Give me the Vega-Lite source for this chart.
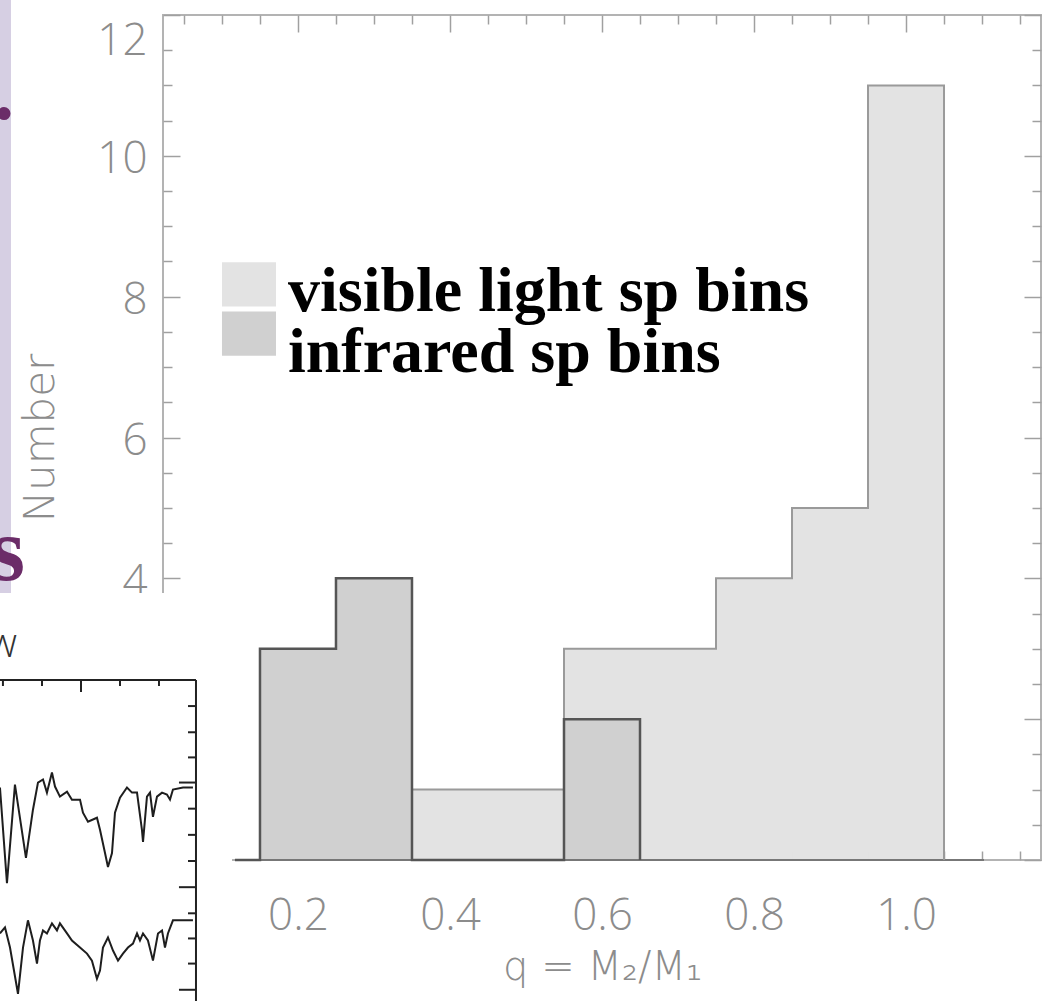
{
  "$schema": "https://vega.github.io/schema/vega-lite/v6.json",
  "width": 878,
  "height": 845,
  "autosize": {"type": "none"},
  "padding": {"left": 163, "top": 15, "right": 1, "bottom": 141},
  "background": "white",
  "config": {"view": {"stroke": "#b3b3b3", "strokeWidth": 2}},
  "datasets": {
    "bins": [
      {"series": "visible light sp bins", "q0": 0.35, "q1": 0.55, "n": 1},
      {"series": "visible light sp bins", "q0": 0.55, "q1": 0.75, "n": 3},
      {"series": "visible light sp bins", "q0": 0.75, "q1": 0.85, "n": 4},
      {"series": "visible light sp bins", "q0": 0.85, "q1": 0.95, "n": 5},
      {"series": "visible light sp bins", "q0": 0.95, "q1": 1.05, "n": 11},
      {"series": "infrared sp bins", "q0": 0.15, "q1": 0.25, "n": 3},
      {"series": "infrared sp bins", "q0": 0.25, "q1": 0.35, "n": 4},
      {"series": "infrared sp bins", "q0": 0.55, "q1": 0.65, "n": 2}
    ],
    "outline": [
      {"series": "infrared", "i": 0, "q": 0.1171, "n": 0},
      {"series": "infrared", "i": 1, "q": 0.15, "n": 3},
      {"series": "infrared", "i": 2, "q": 0.25, "n": 4},
      {"series": "infrared", "i": 3, "q": 0.35, "n": 0},
      {"series": "infrared", "i": 4, "q": 0.55, "n": 2},
      {"series": "infrared", "i": 5, "q": 0.65, "n": 0},
      {"series": "visible", "i": 0, "q": 0.35, "n": 1},
      {"series": "visible", "i": 1, "q": 0.55, "n": 3},
      {"series": "visible", "i": 2, "q": 0.75, "n": 4},
      {"series": "visible", "i": 3, "q": 0.85, "n": 5},
      {"series": "visible", "i": 4, "q": 0.95, "n": 11},
      {"series": "visible", "i": 5, "q": 1.05, "n": 0}
    ],
    "insetRules": [
      {"x": -0.25, "x2": 0.0658, "y": 2.557, "y2": 2.557},
      {"x": 0.0658, "x2": 0.0658, "y": 2.557, "y2": -2.5},
      {"x": -0.1882, "x2": -0.1882, "y": 2.557, "y2": 2.471},
      {"x": -0.1368, "x2": -0.1368, "y": 2.557, "y2": 2.471},
      {"x": -0.0855, "x2": -0.0855, "y": 2.557, "y2": 2.386},
      {"x": -0.0342, "x2": -0.0342, "y": 2.557, "y2": 2.471},
      {"x": 0.0171, "x2": 0.0171, "y": 2.557, "y2": 2.471},
      {"x": 0.0658, "x2": 0.0553, "y": 2.186, "y2": 2.186},
      {"x": 0.0658, "x2": 0.0553, "y": 1.814, "y2": 1.814},
      {"x": 0.0658, "x2": 0.0553, "y": 1.457, "y2": 1.457},
      {"x": 0.0658, "x2": 0.0434, "y": 1.1, "y2": 1.1},
      {"x": 0.0658, "x2": 0.0553, "y": 0.729, "y2": 0.729},
      {"x": 0.0658, "x2": 0.0553, "y": 0.357, "y2": 0.357},
      {"x": 0.0658, "x2": 0.0553, "y": -0.014, "y2": -0.014},
      {"x": 0.0658, "x2": 0.0434, "y": -0.386, "y2": -0.386},
      {"x": 0.0658, "x2": 0.0553, "y": -0.757, "y2": -0.757},
      {"x": 0.0658, "x2": 0.0553, "y": -1.114, "y2": -1.114},
      {"x": 0.0658, "x2": 0.0553, "y": -1.471, "y2": -1.471},
      {"x": 0.0658, "x2": 0.0434, "y": -1.843, "y2": -1.843}
    ],
    "spectrum": [
      {"trace": "upper", "i": 0, "x": -0.1921, "y": 1.029},
      {"trace": "upper", "i": 1, "x": -0.1829, "y": -0.329},
      {"trace": "upper", "i": 2, "x": -0.1724, "y": 1.071},
      {"trace": "upper", "i": 3, "x": -0.1579, "y": 0.029},
      {"trace": "upper", "i": 4, "x": -0.1487, "y": 0.714},
      {"trace": "upper", "i": 5, "x": -0.1421, "y": 1.1},
      {"trace": "upper", "i": 6, "x": -0.1355, "y": 1.143},
      {"trace": "upper", "i": 7, "x": -0.1303, "y": 0.957},
      {"trace": "upper", "i": 8, "x": -0.1237, "y": 1.243},
      {"trace": "upper", "i": 9, "x": -0.1197, "y": 1.043},
      {"trace": "upper", "i": 10, "x": -0.1132, "y": 0.9},
      {"trace": "upper", "i": 11, "x": -0.1039, "y": 0.971},
      {"trace": "upper", "i": 12, "x": -0.0974, "y": 0.857},
      {"trace": "upper", "i": 13, "x": -0.0868, "y": 0.857},
      {"trace": "upper", "i": 14, "x": -0.0829, "y": 0.671},
      {"trace": "upper", "i": 15, "x": -0.0763, "y": 0.543},
      {"trace": "upper", "i": 16, "x": -0.0645, "y": 0.6},
      {"trace": "upper", "i": 17, "x": -0.0605, "y": 0.429},
      {"trace": "upper", "i": 18, "x": -0.0539, "y": 0.1},
      {"trace": "upper", "i": 19, "x": -0.05, "y": -0.1},
      {"trace": "upper", "i": 20, "x": -0.0447, "y": 0.1},
      {"trace": "upper", "i": 21, "x": -0.0408, "y": 0.671},
      {"trace": "upper", "i": 22, "x": -0.0342, "y": 0.886},
      {"trace": "upper", "i": 23, "x": -0.025, "y": 1.029},
      {"trace": "upper", "i": 24, "x": -0.0184, "y": 0.957},
      {"trace": "upper", "i": 25, "x": -0.0118, "y": 0.957},
      {"trace": "upper", "i": 26, "x": -0.0053, "y": 0.429},
      {"trace": "upper", "i": 27, "x": -0.0039, "y": 0.257},
      {"trace": "upper", "i": 28, "x": 0.0013, "y": 0.9},
      {"trace": "upper", "i": 29, "x": 0.0053, "y": 0.957},
      {"trace": "upper", "i": 30, "x": 0.0092, "y": 0.614},
      {"trace": "upper", "i": 31, "x": 0.0145, "y": 0.9},
      {"trace": "upper", "i": 32, "x": 0.0211, "y": 0.957},
      {"trace": "upper", "i": 33, "x": 0.0276, "y": 0.929},
      {"trace": "upper", "i": 34, "x": 0.0316, "y": 0.857},
      {"trace": "upper", "i": 35, "x": 0.0355, "y": 1.0},
      {"trace": "upper", "i": 36, "x": 0.0487, "y": 1.029},
      {"trace": "upper", "i": 37, "x": 0.0618, "y": 1.029},
      {"trace": "lower", "i": 0, "x": -0.1921, "y": -1.043},
      {"trace": "lower", "i": 1, "x": -0.1855, "y": -0.957},
      {"trace": "lower", "i": 2, "x": -0.1789, "y": -1.243},
      {"trace": "lower", "i": 3, "x": -0.1684, "y": -1.9},
      {"trace": "lower", "i": 4, "x": -0.1618, "y": -1.243},
      {"trace": "lower", "i": 5, "x": -0.1553, "y": -0.857},
      {"trace": "lower", "i": 6, "x": -0.1487, "y": -1.143},
      {"trace": "lower", "i": 7, "x": -0.1434, "y": -1.471},
      {"trace": "lower", "i": 8, "x": -0.1395, "y": -1.143},
      {"trace": "lower", "i": 9, "x": -0.1355, "y": -1.0},
      {"trace": "lower", "i": 10, "x": -0.1303, "y": -1.043},
      {"trace": "lower", "i": 11, "x": -0.1237, "y": -0.9},
      {"trace": "lower", "i": 12, "x": -0.1171, "y": -1.0},
      {"trace": "lower", "i": 13, "x": -0.1132, "y": -0.9},
      {"trace": "lower", "i": 14, "x": -0.1039, "y": -1.043},
      {"trace": "lower", "i": 15, "x": -0.0974, "y": -1.143},
      {"trace": "lower", "i": 16, "x": -0.0868, "y": -1.243},
      {"trace": "lower", "i": 17, "x": -0.0776, "y": -1.329},
      {"trace": "lower", "i": 18, "x": -0.0711, "y": -1.429},
      {"trace": "lower", "i": 19, "x": -0.0645, "y": -1.686},
      {"trace": "lower", "i": 20, "x": -0.0605, "y": -1.571},
      {"trace": "lower", "i": 21, "x": -0.0566, "y": -1.243},
      {"trace": "lower", "i": 22, "x": -0.05, "y": -1.1},
      {"trace": "lower", "i": 23, "x": -0.0434, "y": -1.286},
      {"trace": "lower", "i": 24, "x": -0.0368, "y": -1.429},
      {"trace": "lower", "i": 25, "x": -0.0303, "y": -1.329},
      {"trace": "lower", "i": 26, "x": -0.0237, "y": -1.243},
      {"trace": "lower", "i": 27, "x": -0.0171, "y": -1.186},
      {"trace": "lower", "i": 28, "x": -0.0118, "y": -1.043},
      {"trace": "lower", "i": 29, "x": -0.0079, "y": -1.143},
      {"trace": "lower", "i": 30, "x": -0.0039, "y": -1.043},
      {"trace": "lower", "i": 31, "x": 0.0026, "y": -1.143},
      {"trace": "lower", "i": 32, "x": 0.0092, "y": -1.429},
      {"trace": "lower", "i": 33, "x": 0.0158, "y": -1.043},
      {"trace": "lower", "i": 34, "x": 0.0211, "y": -1.0},
      {"trace": "lower", "i": 35, "x": 0.025, "y": -1.243},
      {"trace": "lower", "i": 36, "x": 0.0289, "y": -1.043},
      {"trace": "lower", "i": 37, "x": 0.0355, "y": -0.857},
      {"trace": "lower", "i": 38, "x": 0.0474, "y": -0.857},
      {"trace": "lower", "i": 39, "x": 0.0618, "y": -0.857}
    ]
  },
  "layer": [
    {
      "data": {"values": [{}]},
      "mark": {"type": "rect", "fill": "#d6cfe3"},
      "encoding": {
        "x": {"datum": -0.25, "type": "quantitative", "scale": {"domain": [0.0224, 1.1776], "nice": false, "zero": false}, "axis": null},
        "x2": {"datum": -0.1776},
        "y": {"datum": 12.5, "type": "quantitative", "scale": {"domain": [0, 12], "nice": false, "zero": false}, "axis": null},
        "y2": {"datum": 3.79}
      }
    },
    {
      "data": {"name": "bins"},
      "mark": {"type": "rect", "strokeWidth": 0},
      "encoding": {
        "x": {"field": "q0", "type": "quantitative", "scale": {"domain": [0.0224, 1.1776], "nice": false, "zero": false},
          "axis": {"orient": "bottom", "values": [0.2, 0.4, 0.6, 0.8, 1.0], "format": ".1f", "ticks": false, "domain": false, "grid": false, "labelFont": "Open Sans", "labelFontWeight": 300, "labelFontSize": 44, "labelColor": "#8c8c8c", "labelPadding": 34, "title": "q  =  M₂/M₁", "titleFont": "DejaVu Sans ExtraLight, DejaVu Sans", "titleFontWeight": 200, "titleFontSize": 40, "titleColor": "#8c8c8c", "titlePadding": 9, "zindex": 0}},
        "x2": {"field": "q1"},
        "y": {"field": "n", "type": "quantitative", "scale": {"domain": [0, 12], "nice": false, "zero": false},
          "axis": {"orient": "left", "values": [0, 2, 4, 6, 8, 10, 12], "ticks": false, "domain": false, "grid": false, "labelFlush": true, "labelOffset": 4, "labelFont": "Open Sans", "labelFontWeight": 300, "labelFontSize": 44, "labelColor": "#8c8c8c", "labelPadding": 16, "title": "Number", "titleFont": "DejaVu Sans ExtraLight, DejaVu Sans", "titleFontWeight": 200, "titleFontSize": 42, "titleColor": "#8c8c8c", "titlePadding": 34, "zindex": 0}},
        "y2": {"datum": 0},
        "color": {"field": "series", "type": "nominal",
          "scale": {"domain": ["visible light sp bins", "infrared sp bins"], "range": ["#e3e3e3", "#d0d0d0"]},
          "legend": null}
      }
    },
    {
      "data": {"values": [{}]},
      "mark": {"type": "rule", "color": "#777777", "strokeWidth": 2},
      "encoding": {
        "x": {"datum": 0.1171, "type": "quantitative", "scale": {"domain": [0.0224, 1.1776], "nice": false, "zero": false},
          "axis": {"orient": "top", "values": [0.2, 0.4, 0.6, 0.8, 1.0], "labels": false, "domain": false, "grid": false, "ticks": true, "tickSize": -17, "tickColor": "#a0a0a0", "tickWidth": 1.5, "title": null, "zindex": 0}},
        "x2": {"datum": 1.1026},
        "y": {"datum": 0, "type": "quantitative", "scale": {"domain": [0, 12], "nice": false, "zero": false},
          "axis": {"orient": "right", "values": [0, 2, 4, 6, 8, 10, 12], "labels": false, "domain": false, "grid": false, "ticks": true, "tickSize": -17, "tickColor": "#a0a0a0", "tickWidth": 1.5, "title": null, "zindex": 0}}
      }
    },
    {
      "data": {"name": "outline"},
      "transform": [{"filter": "datum.series == 'visible'"}],
      "mark": {"type": "line", "interpolate": "step-after", "color": "#9a9a9a", "strokeWidth": 2},
      "encoding": {
        "x": {"field": "q", "type": "quantitative", "scale": {"domain": [0.0224, 1.1776], "nice": false, "zero": false},
          "axis": {"orient": "bottom", "values": [0.05, 0.1, 0.15, 0.25, 0.3, 0.35, 0.45, 0.5, 0.55, 0.65, 0.7, 0.75, 0.85, 0.9, 0.95, 1.05, 1.1, 1.15], "labels": false, "domain": false, "grid": false, "ticks": true, "tickSize": -9, "tickColor": "#a0a0a0", "tickWidth": 1.5, "title": null, "zindex": 0}},
        "y": {"field": "n", "type": "quantitative", "scale": {"domain": [0, 12], "nice": false, "zero": false},
          "axis": {"orient": "left", "values": [0.5, 1, 1.5, 2.5, 3, 3.5, 4.5, 5, 5.5, 6.5, 7, 7.5, 8.5, 9, 9.5, 10.5, 11, 11.5], "labels": false, "domain": false, "grid": false, "ticks": true, "tickSize": -9, "tickColor": "#a0a0a0", "tickWidth": 1.5, "title": null, "zindex": 0}},
        "order": {"field": "i", "type": "quantitative"}
      }
    },
    {
      "data": {"name": "outline"},
      "transform": [{"filter": "datum.series == 'infrared'"}],
      "mark": {"type": "line", "interpolate": "step-after", "color": "#555555", "strokeWidth": 2.5},
      "encoding": {
        "x": {"field": "q", "type": "quantitative", "scale": {"domain": [0.0224, 1.1776], "nice": false, "zero": false},
          "axis": {"orient": "bottom", "values": [0.2, 0.4, 0.6, 0.8, 1.0], "labels": false, "domain": false, "grid": false, "ticks": true, "tickSize": -17, "tickColor": "#a0a0a0", "tickWidth": 1.5, "title": null, "zindex": 0}},
        "y": {"field": "n", "type": "quantitative", "scale": {"domain": [0, 12], "nice": false, "zero": false},
          "axis": {"orient": "left", "values": [0, 2, 4, 6, 8, 10, 12], "labels": false, "domain": false, "grid": false, "ticks": true, "tickSize": -17, "tickColor": "#a0a0a0", "tickWidth": 1.5, "title": null, "zindex": 0}},
        "order": {"field": "i", "type": "quantitative"}
      }
    },
    {
      "data": {"values": [{}]},
      "mark": {"type": "rect", "fill": "#e3e3e3"},
      "encoding": {
        "x": {"datum": 0.1, "type": "quantitative", "scale": {"domain": [0.0224, 1.1776], "nice": false, "zero": false}, "axis": null},
        "x2": {"datum": 0.1711},
        "y": {"datum": 8.49, "type": "quantitative", "scale": {"domain": [0, 12], "nice": false, "zero": false}, "axis": null},
        "y2": {"datum": 7.86}
      }
    },
    {
      "data": {"values": [{}]},
      "mark": {"type": "rect", "fill": "#d0d0d0"},
      "encoding": {
        "x": {"datum": 0.1, "type": "quantitative", "scale": {"domain": [0.0224, 1.1776], "nice": false, "zero": false}, "axis": null},
        "x2": {"datum": 0.1711},
        "y": {"datum": 7.79, "type": "quantitative", "scale": {"domain": [0, 12], "nice": false, "zero": false}, "axis": null},
        "y2": {"datum": 7.16}
      }
    },
    {
      "data": {"values": [{"label": "visible light sp bins"}]},
      "mark": {"type": "text", "align": "left", "baseline": "alphabetic", "font": "Liberation Serif", "fontWeight": "bold", "fontSize": 64, "color": "#000000"},
      "encoding": {
        "x": {"datum": 0.1868, "type": "quantitative", "scale": {"domain": [0.0224, 1.1776], "nice": false, "zero": false}, "axis": null},
        "y": {"datum": 7.8, "type": "quantitative", "scale": {"domain": [0, 12], "nice": false, "zero": false}, "axis": null},
        "text": {"field": "label"}
      }
    },
    {
      "data": {"values": [{"label": "infrared sp bins"}]},
      "mark": {"type": "text", "align": "left", "baseline": "alphabetic", "font": "Liberation Serif", "fontWeight": "bold", "fontSize": 64, "color": "#000000"},
      "encoding": {
        "x": {"datum": 0.1868, "type": "quantitative", "scale": {"domain": [0.0224, 1.1776], "nice": false, "zero": false}, "axis": null},
        "y": {"datum": 6.93, "type": "quantitative", "scale": {"domain": [0, 12], "nice": false, "zero": false}, "axis": null},
        "text": {"field": "label"}
      }
    },
    {
      "data": {"values": [{}]},
      "mark": {"type": "rect", "fill": "#ffffff"},
      "encoding": {
        "x": {"datum": -0.25, "type": "quantitative", "scale": {"domain": [0.0224, 1.1776], "nice": false, "zero": false},
          "axis": {"orient": "top", "values": [0.05, 0.1, 0.15, 0.25, 0.3, 0.35, 0.45, 0.5, 0.55, 0.65, 0.7, 0.75, 0.85, 0.9, 0.95, 1.05, 1.1, 1.15], "labels": false, "domain": false, "grid": false, "ticks": true, "tickSize": -9, "tickColor": "#a0a0a0", "tickWidth": 1.5, "title": null, "zindex": 0}},
        "x2": {"datum": 0.1132},
        "y": {"datum": 3.79, "type": "quantitative", "scale": {"domain": [0, 12], "nice": false, "zero": false},
          "axis": {"orient": "right", "values": [0.5, 1, 1.5, 2.5, 3, 3.5, 4.5, 5, 5.5, 6.5, 7, 7.5, 8.5, 9, 9.5, 10.5, 11, 11.5], "labels": false, "domain": false, "grid": false, "ticks": true, "tickSize": -9, "tickColor": "#a0a0a0", "tickWidth": 1.5, "title": null, "zindex": 0}},
        "y2": {"datum": -2.5}
      }
    },
    {
      "data": {"name": "insetRules"},
      "mark": {"type": "rule", "color": "#222222", "strokeWidth": 2},
      "encoding": {
        "x": {"field": "x", "type": "quantitative", "scale": {"domain": [0.0224, 1.1776], "nice": false, "zero": false}, "axis": null},
        "x2": {"field": "x2"},
        "y": {"field": "y", "type": "quantitative", "scale": {"domain": [0, 12], "nice": false, "zero": false}, "axis": null},
        "y2": {"field": "y2"}
      }
    },
    {
      "data": {"name": "spectrum"},
      "mark": {"type": "line", "color": "#1e1e1e", "strokeWidth": 2},
      "encoding": {
        "x": {"field": "x", "type": "quantitative", "scale": {"domain": [0.0224, 1.1776], "nice": false, "zero": false}, "axis": null},
        "y": {"field": "y", "type": "quantitative", "scale": {"domain": [0, 12], "nice": false, "zero": false}, "axis": null},
        "detail": {"field": "trace", "type": "nominal"},
        "order": {"field": "i", "type": "quantitative"}
      }
    },
    {
      "data": {"values": [{}]},
      "mark": {"type": "text", "text": "w", "align": "right", "baseline": "alphabetic", "font": "Open Sans", "fontWeight": 300, "fontSize": 40, "color": "#333333"},
      "encoding": {
        "x": {"datum": -0.1697, "type": "quantitative", "scale": {"domain": [0.0224, 1.1776], "nice": false, "zero": false}, "axis": null},
        "y": {"datum": 2.886, "type": "quantitative", "scale": {"domain": [0, 12], "nice": false, "zero": false}, "axis": null}
      }
    },
    {
      "data": {"values": [{}]},
      "mark": {"type": "circle", "color": "#6b2c68", "size": 170, "opacity": 1},
      "encoding": {
        "x": {"datum": -0.1868, "type": "quantitative", "scale": {"domain": [0.0224, 1.1776], "nice": false, "zero": false}, "axis": null},
        "y": {"datum": 10.6, "type": "quantitative", "scale": {"domain": [0, 12], "nice": false, "zero": false}, "axis": null}
      }
    },
    {
      "data": {"values": [{}]},
      "mark": {"type": "text", "text": "s", "align": "right", "baseline": "alphabetic", "font": "Liberation Serif", "fontWeight": "bold", "fontSize": 90, "color": "#6b2c68"},
      "encoding": {
        "x": {"datum": -0.1592, "type": "quantitative", "scale": {"domain": [0.0224, 1.1776], "nice": false, "zero": false}, "axis": null},
        "y": {"datum": 3.98, "type": "quantitative", "scale": {"domain": [0, 12], "nice": false, "zero": false}, "axis": null}
      }
    }
  ],
  "resolve": {"axis": {"x": "independent", "y": "independent"}}
}
